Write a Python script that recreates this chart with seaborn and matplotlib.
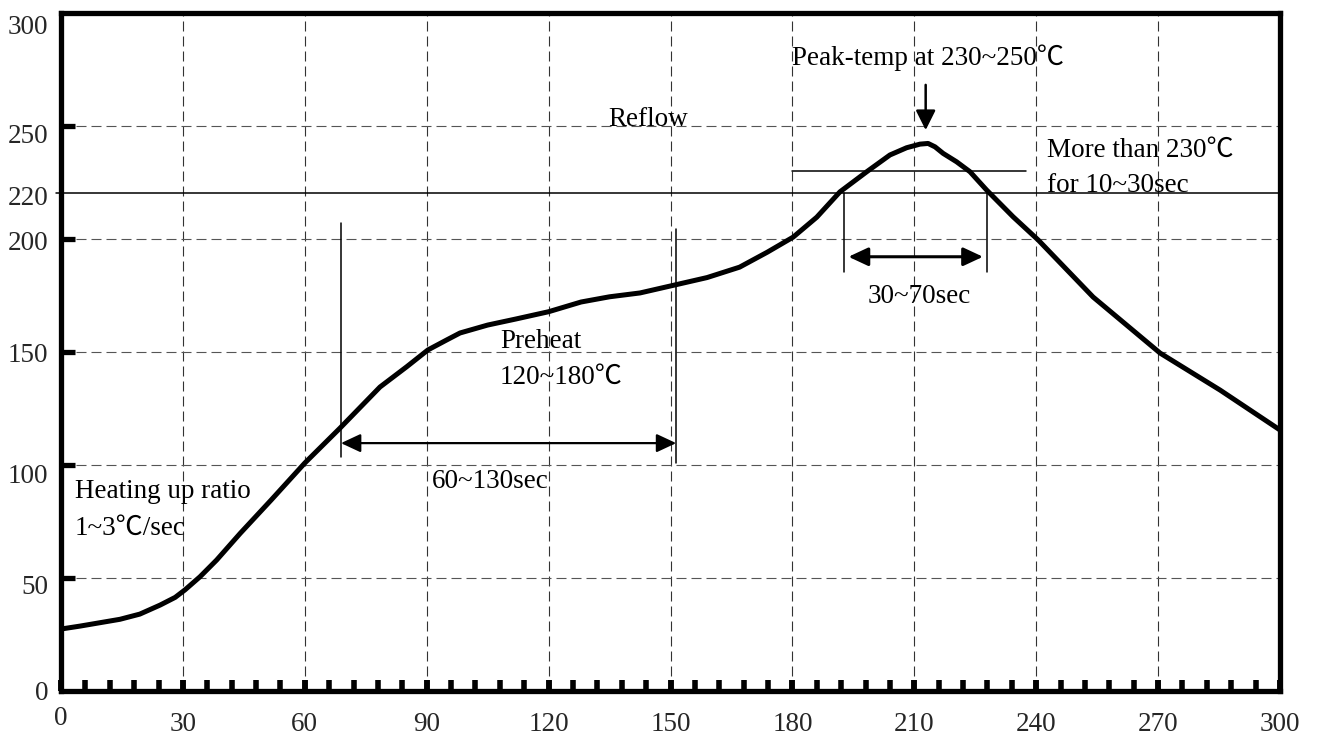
import numpy as np
import pandas as pd
import seaborn as sns
import matplotlib.pyplot as plt
import matplotlib.transforms as mtransforms
from matplotlib.patches import ArrowStyle
from matplotlib.ticker import FixedLocator, NullFormatter

# -------------------------
# data
# -------------------------
time_s = [0, 4.7, 9.6, 14.5, 19.4, 24.4, 28.1, 30.5, 34.2, 38.3, 44.1, 51.7,
          60, 68.7, 78.5, 85.1, 90.3, 94.9, 98.2, 105, 112, 120, 128, 135,
          142.5, 151, 159, 167, 173.8, 180.2, 186, 191.7, 198.3, 204, 208.1,
          211.4, 213.4, 215.1, 217.1, 220.4, 223.7, 227.8, 234.3, 240.5, 254,
          270.5, 285.3, 300]
temp_c = [27.4, 28.7, 30.2, 31.7, 34, 38, 41.4, 44.7, 50.5, 57.9, 69.7, 84.4,
          100.8, 116.3, 134.4, 143.4, 150.8, 155.2, 158.3, 161.8, 164.5, 167.7,
          172, 174.3, 176, 179.5, 182.8, 187.4, 194, 200.7, 209.5, 220.7, 229.6,
          237, 240.2, 241.8, 242.1, 240.6, 237.7, 234, 229.6, 221.5, 209.7,
          199.4, 174.2, 149.4, 133, 115.4]

x_ticks = list(range(0, 301, 30))
x_minor = list(range(0, 301, 6))
y_labels = [0, 50, 100, 150, 200, 220, 250, 300]
y_marks = [50, 100, 150, 200, 250]

liquidus = 220          # solid reference line
peak_band = 230         # short line above liquidus
preheat_start, preheat_end = 68.9, 151.4
reflow_start, reflow_end = 192.8, 227.9
peak_time = 212.8

profile = pd.DataFrame({'time': time_s, 'temp': temp_c})

# -------------------------
# style
# -------------------------
sns.set_style('white')
plt.rcParams['font.family'] = ['Liberation Serif', 'Noto Sans CJK JP', 'DejaVu Serif']
plt.rcParams['font.size'] = 19.5
plt.rcParams['lines.scale_dashes'] = False

fig = plt.figure(figsize=(13.22, 7.38), dpi=100)
ax = fig.add_axes([61 / 1322, 1 - 691 / 738, 1219 / 1322, 678.5 / 738])

sns.lineplot(data=profile, x='time', y='temp', color='black', linewidth=3.6,
             ax=ax, zorder=5)

ax.set_xlim(0, 300)
ax.set_ylim(0, 300)
ax.set_xlabel('')
ax.set_ylabel('')

# ticks
ax.xaxis.set_major_locator(FixedLocator(x_ticks))
ax.xaxis.set_minor_locator(FixedLocator(x_minor))
ax.xaxis.set_minor_formatter(NullFormatter())
ax.yaxis.set_major_locator(FixedLocator(y_labels))
ax.yaxis.set_minor_locator(FixedLocator(y_marks))
ax.yaxis.set_minor_formatter(NullFormatter())
ax.yaxis.remove_overlapping_locs = False
ax.xaxis.remove_overlapping_locs = False
ax.tick_params(axis='x', which='both', bottom=True, direction='in', length=8,
               width=4, color='black', pad=15, labelsize=19.5)
ax.tick_params(axis='y', which='major', left=True, length=0, pad=9, labelsize=19.5)
ax.tick_params(axis='y', which='minor', left=True, direction='in', length=10,
               width=3.8, color='black')

# the scanned labels sit a little below their ticks
y_shift_px = {0: 1, 50: -7, 100: -9, 150: -1, 200: -2, 220: -2, 250: -8, 300: -12}
for val, tick in zip(y_labels, ax.yaxis.get_major_ticks()):
    off = mtransforms.ScaledTranslation(0, y_shift_px[val] / 100, fig.dpi_scale_trans)
    tick.label1.set_transform(tick.label1.get_transform() + off)
zero_tick = ax.xaxis.get_major_ticks()[0]
zero_tick.label1.set_transform(zero_tick.label1.get_transform()
                               + mtransforms.ScaledTranslation(0, 0.06, fig.dpi_scale_trans))

# grid
dash = (0, (7.2, 3.6))
ax.xaxis.grid(True, which='major', color='#333333', linewidth=0.8, linestyle=dash)
ax.yaxis.grid(True, which='minor', color='#555555', linewidth=0.8, linestyle=dash)
ax.yaxis.grid(False, which='major')

for s in ax.spines.values():
    s.set_visible(True)
    s.set_linewidth(3.8)
    s.set_color('black')
    s.set_zorder(6)

# reference lines
ax.plot([-1.2, 300], [liquidus, liquidus], color='black', lw=1.1, clip_on=False)
ax.plot([179.9, 237.5], [peak_band, peak_band], color='black', lw=1.1)

ax.plot([preheat_start, preheat_start], [103.4, 206.9], color='black', lw=1.1)
ax.plot([preheat_end, preheat_end], [100.8, 204.2], color='black', lw=1.1)
ax.plot([reflow_start, reflow_start], [185.4, liquidus], color='black', lw=1.1)
ax.plot([reflow_end, reflow_end], [185.4, liquidus], color='black', lw=1.1)

both = ArrowStyle('<|-|>', head_length=0.6, head_width=0.28)
single = ArrowStyle('-|>', head_length=0.6, head_width=0.3)
ax.annotate('', xy=(preheat_end, 109.6), xytext=(preheat_start, 109.6),
            arrowprops=dict(arrowstyle=both, color='black', lw=1.6,
                            mutation_scale=20, shrinkA=0, shrinkB=0))
ax.annotate('', xy=(reflow_end - 1, 192), xytext=(reflow_start + 1, 192),
            arrowprops=dict(arrowstyle=both, color='black', lw=2.2,
                            mutation_scale=20, shrinkA=0, shrinkB=0))
ax.annotate('', xy=(peak_time, 248), xytext=(peak_time, 268),
            arrowprops=dict(arrowstyle=single, color='black', lw=1.8,
                            mutation_scale=20, shrinkA=0, shrinkB=0))

# labels
txt = dict(color='black', va='center', ha='left', fontsize=19.5)
ax.text(3.4, 88, 'Heating up ratio', **txt)
ax.text(3.4, 72, '1~3℃/sec', **txt)
ax.text(108, 154.7, 'Preheat', **txt)
ax.text(108, 138.8, '120~180℃', **txt)
ax.text(105.6, 92.8, '60~130sec', color='black', va='center', ha='center', fontsize=19.5)
ax.text(134.6, 252.9, 'Reflow', **txt)
ax.text(180, 279.8, 'Peak-temp at 230~250℃', **txt)
ax.text(242.7, 239.2, 'More than 230℃', **txt)
ax.text(242.7, 223.7, 'for 10~30sec', **txt)
ax.text(211.2, 174.6, '30~70sec', color='black', va='center', ha='center', fontsize=19.5)

fig.savefig('out.png', dpi=100, facecolor='white')
